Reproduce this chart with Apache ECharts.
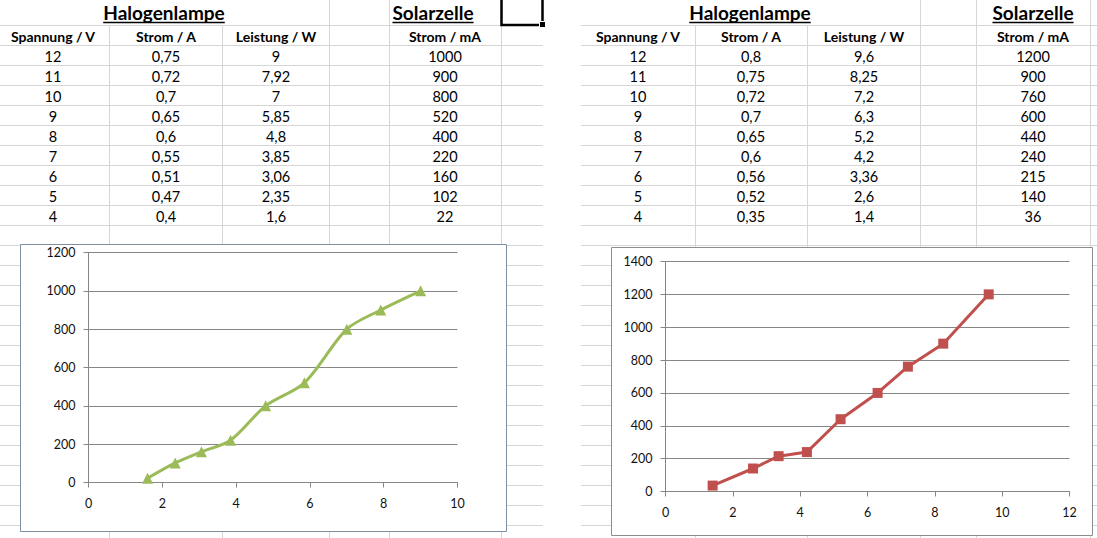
<!DOCTYPE html>
<html>
<head>
<meta charset="utf-8">
<script src="https://cdn.jsdelivr.net/npm/echarts@6/dist/echarts.min.js"></script>
<style>
html, body { margin: 0; padding: 0; background: #fff; }
#main { width: 1097px; height: 538px; }
</style>
</head>
<body>
<div id="main"></div>
<script>
// Tabelle 1 (links)
var spannung1 = [12, 11, 10, 9, 8, 7, 6, 5, 4];
var strom1 = [0.75, 0.72, 0.7, 0.65, 0.6, 0.55, 0.51, 0.47, 0.4];
var leistung1 = [9, 7.92, 7, 5.85, 4.8, 3.85, 3.06, 2.35, 1.6];
var solar1 = [1000, 900, 800, 520, 400, 220, 160, 102, 22];

// Tabelle 2 (rechts)
var spannung2 = [12, 11, 10, 9, 8, 7, 6, 5, 4];
var strom2 = [0.8, 0.75, 0.72, 0.7, 0.65, 0.6, 0.56, 0.52, 0.35];
var leistung2 = [9.6, 8.25, 7.2, 6.3, 5.2, 4.2, 3.36, 2.6, 1.4];
var solar2 = [1200, 900, 760, 600, 440, 240, 215, 140, 36];

var headers = ['Spannung / V', 'Strom / A', 'Leistung / W', 'Strom / mA'];

var FONT = 'Lato, "Open Sans", sans-serif';
var GRID_COLOR = '#d6d6d6';
var AXIS_COLOR = '#868686';

function fmt(v) {
	return String(v).replace('.', ',');
}

var measureCtx = document.createElement('canvas').getContext('2d');
function textWidth(txt, font) {
	measureCtx.font = font;
	return measureCtx.measureText(txt).width;
}

var graphics = [];

function hLine(x1, x2, y) {
	graphics.push({ type: 'line', z: -10, silent: true,
		shape: { x1: x1, y1: y + 0.5, x2: x2, y2: y + 0.5 },
		style: { stroke: GRID_COLOR, lineWidth: 1 } });
}
function vLine(x, y1, y2) {
	graphics.push({ type: 'line', z: -10, silent: true,
		shape: { x1: x + 0.5, y1: y1, x2: x + 0.5, y2: y2 },
		style: { stroke: GRID_COLOR, lineWidth: 1 } });
}
function label(txt, x, y, bold, size) {
	graphics.push({ type: 'text', z: 1, silent: true, x: x, y: y,
		style: { text: txt, fill: '#000', fontFamily: FONT, fontSize: size || 14.5,
			fontWeight: bold ? 'bold' : 'normal', align: 'center', verticalAlign: 'middle' } });
}
function title(txt, cx) {
	var font = 'bold 19px ' + FONT;
	var w = textWidth(txt, font);
	label(txt, cx, 12, true, 19);
	graphics.push({ type: 'line', z: 1, silent: true,
		shape: { x1: cx - w / 2, y1: 22.5, x2: cx + w / 2, y2: 22.5 },
		style: { stroke: '#000', lineWidth: 1.5 } });
}

// Tabellenblatt zeichnen
function sheet(x0, x1, cols, titleFrom, centers, t1x, t2x, sp, st, le, so) {
	for (var y = 25; y < 538; y += 20) hLine(x0, x1, y);
	cols.forEach(function(c, i) {
		vLine(c, i < titleFrom ? 25 : 0, 538);
	});
	title('Halogenlampe', t1x);
	title('Solarzelle', t2x);
	headers.forEach(function(h, i) { label(h, centers[i], 36, true, 14); });
	sp.forEach(function(v, i) {
		var y = 56 + i * 20;
		label(fmt(v), centers[0], y);
		label(fmt(st[i]), centers[1], y);
		label(fmt(le[i]), centers[2], y);
		label(fmt(so[i]), centers[3], y);
	});
}

sheet(0, 543, [109, 222, 329, 389, 501], 2, [53, 166, 276, 445], 164, 433,
	spannung1, strom1, leistung1, solar1);
sheet(581, 1097, [695, 807, 920, 976, 1090], 2, [638, 751, 864, 1033], 750, 1033,
	spannung2, strom2, leistung2, solar2);

// Auswahlrahmen
graphics.push({ type: 'rect', z: 2, silent: true,
	shape: { x: 501.5, y: -3, width: 41, height: 28 },
	style: { fill: 'none', stroke: '#000', lineWidth: 2.5 } });
graphics.push({ type: 'rect', z: 3, silent: true,
	shape: { x: 539.5, y: 21.5, width: 6, height: 6 },
	style: { fill: '#000', stroke: '#fff', lineWidth: 1 } });

// Diagrammrahmen
graphics.push({ type: 'rect', z: -5, silent: true,
	shape: { x: 20.5, y: 244.5, width: 486, height: 287 },
	style: { fill: '#fff', stroke: '#7d8fa3', lineWidth: 1 } });
graphics.push({ type: 'rect', z: -5, silent: true,
	shape: { x: 611.5, y: 247.5, width: 481, height: 288 },
	style: { fill: '#fff', stroke: '#8c8c8c', lineWidth: 1 } });

function plain(v) {
	return String(v);
}

function xAxisCfg(idx, max) {
	return {
		gridIndex: idx, type: 'value', min: 0, max: max, interval: 2,
		axisLine: { show: true, onZero: false, lineStyle: { color: AXIS_COLOR } },
		axisTick: { show: true, length: 5, lineStyle: { color: AXIS_COLOR } },
		splitLine: { show: false },
		axisLabel: { color: '#111', fontSize: 12.5, fontFamily: FONT, margin: 14, formatter: plain }
	};
}
function yAxisCfg(idx, max) {
	return {
		gridIndex: idx, type: 'value', min: 0, max: max, interval: 200,
		axisLine: { show: true, lineStyle: { color: AXIS_COLOR } },
		axisTick: { show: true, length: 5, lineStyle: { color: AXIS_COLOR } },
		splitLine: { show: true, lineStyle: { color: AXIS_COLOR } },
		axisLabel: { color: '#111', fontSize: 12.5, fontFamily: FONT, margin: 13, formatter: plain }
	};
}

function pairs(xs, ys) {
	return xs.map(function(x, i) { return [x, ys[i]]; });
}

var chart = echarts.init(document.getElementById('main'), null, { renderer: 'svg' });
chart.setOption({
	animation: false,
	grid: [
		{ left: 88.5, top: 252.5, right: 1097 - 457.5, bottom: 538 - 482.5 },
		{ left: 665.5, top: 261.5, right: 1097 - 1069.5, bottom: 538 - 491.5 }
	],
	xAxis: [xAxisCfg(0, 10), xAxisCfg(1, 12)],
	yAxis: [yAxisCfg(0, 1200), yAxisCfg(1, 1400)],
	series: [
		{
			type: 'line', xAxisIndex: 0, yAxisIndex: 0,
			data: pairs(leistung1, solar1),
			smooth: 0.3,
			symbol: 'triangle', symbolSize: 11,
			itemStyle: { color: '#9bbb59' },
			lineStyle: { color: '#9bbb59', width: 3 }
		},
		{
			type: 'line', xAxisIndex: 1, yAxisIndex: 1,
			data: pairs(leistung2, solar2),
			symbol: 'rect', symbolSize: 10,
			itemStyle: { color: '#c0504d' },
			lineStyle: { color: '#c0504d', width: 3 }
		}
	],
	graphic: graphics
});
</script>
</body>
</html>
